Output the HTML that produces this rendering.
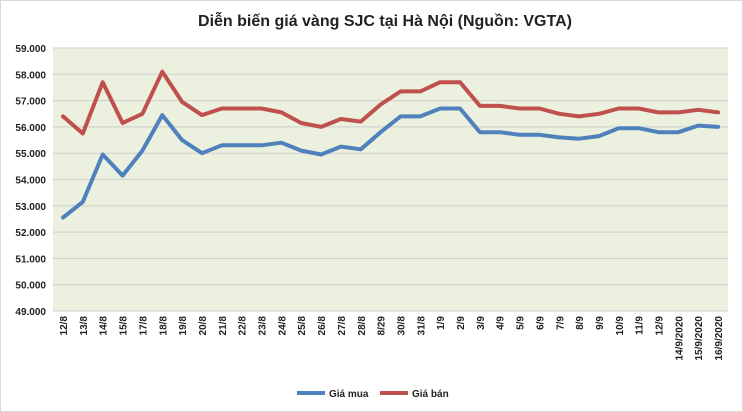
<!DOCTYPE html>
<html><head><meta charset="utf-8"><style>
body{margin:0;background:#fff;}
svg{display:block;font-family:"Liberation Sans",sans-serif;}
</style></head><body>
<svg width="743" height="412" viewBox="0 0 743 412" xmlns="http://www.w3.org/2000/svg">
<rect x="0.5" y="0.5" width="742" height="411" fill="#fff" stroke="#d9d9d9"/>
<text x="385" y="26" text-anchor="middle" font-size="16" font-weight="bold" fill="#222">Diễn biến giá vàng SJC tại Hà Nội (Nguồn: VGTA)</text>
<rect x="53" y="48" width="675" height="263" fill="#ebf1de"/>
<g id="grid" stroke="#cfcfcf" stroke-width="1"></g>
<g id="ylab" font-size="10" font-weight="bold" fill="#222" text-anchor="end"></g>
<g id="xlab" font-size="10" font-weight="bold" fill="#222"></g>
<polyline id="buy" fill="none" stroke="#4f81bd" stroke-width="4" stroke-linejoin="round" stroke-linecap="round"/>
<polyline id="sell" fill="none" stroke="#c0504d" stroke-width="4" stroke-linejoin="round" stroke-linecap="round"/>
<line x1="297" y1="393" x2="325" y2="393" stroke="#4f81bd" stroke-width="4"/>
<text x="329" y="397" font-size="10" font-weight="bold" fill="#222">Giá mua</text>
<line x1="380" y1="393" x2="408" y2="393" stroke="#c0504d" stroke-width="4"/>
<text x="412" y="397" font-size="10" font-weight="bold" fill="#222">Giá bán</text>
</svg>
<script>
const ns="http://www.w3.org/2000/svg";
const g=document.getElementById("grid"),yl=document.getElementById("ylab"),xl=document.getElementById("xlab");
const Y=v=>48+(59-v)*26.3;
for(let v=49;v<=59;v++){const y=Y(v);
 const l=document.createElementNS(ns,"line");l.setAttribute("x1",53);l.setAttribute("x2",728);l.setAttribute("y1",y);l.setAttribute("y2",y);g.appendChild(l);
 const t=document.createElementNS(ns,"text");t.setAttribute("x",46);t.setAttribute("y",y+4);t.textContent=v+".000";yl.appendChild(t);}
const labs="12/8,13/8,14/8,15/8,17/8,18/8,19/8,20/8,21/8,22/8,23/8,24/8,25/8,26/8,27/8,28/8,8/29,30/8,31/8,1/9,2/9,3/9,4/9,5/9,6/9,7/9,8/9,9/9,10/9,11/9,12/9,14/9/2020,15/9/2020,16/9/2020".split(",");
const X=i=>63+i*19.85;
labs.forEach((s,i)=>{const t=document.createElementNS(ns,"text");const x=X(i)+4,y=316;
 t.setAttribute("transform",`translate(${x},${y}) rotate(-90)`);t.setAttribute("text-anchor","end");t.textContent=s;xl.appendChild(t);});
const buy=[52.55,53.15,54.95,54.15,55.1,56.45,55.5,55.0,55.3,55.3,55.3,55.4,55.1,54.95,55.25,55.15,55.8,56.4,56.4,56.7,56.7,55.8,55.8,55.7,55.7,55.6,55.55,55.65,55.95,55.95,55.8,55.8,56.05,56.0];
const sell=[56.4,55.75,57.7,56.15,56.5,58.1,56.95,56.45,56.7,56.7,56.7,56.55,56.15,56.0,56.3,56.2,56.85,57.35,57.35,57.7,57.7,56.8,56.8,56.7,56.7,56.5,56.4,56.5,56.7,56.7,56.55,56.55,56.65,56.55];
const pts=a=>a.map((v,i)=>X(i).toFixed(1)+","+Y(v).toFixed(1)).join(" ");
document.getElementById("buy").setAttribute("points",pts(buy));
document.getElementById("sell").setAttribute("points",pts(sell));
</script>
</body></html>
